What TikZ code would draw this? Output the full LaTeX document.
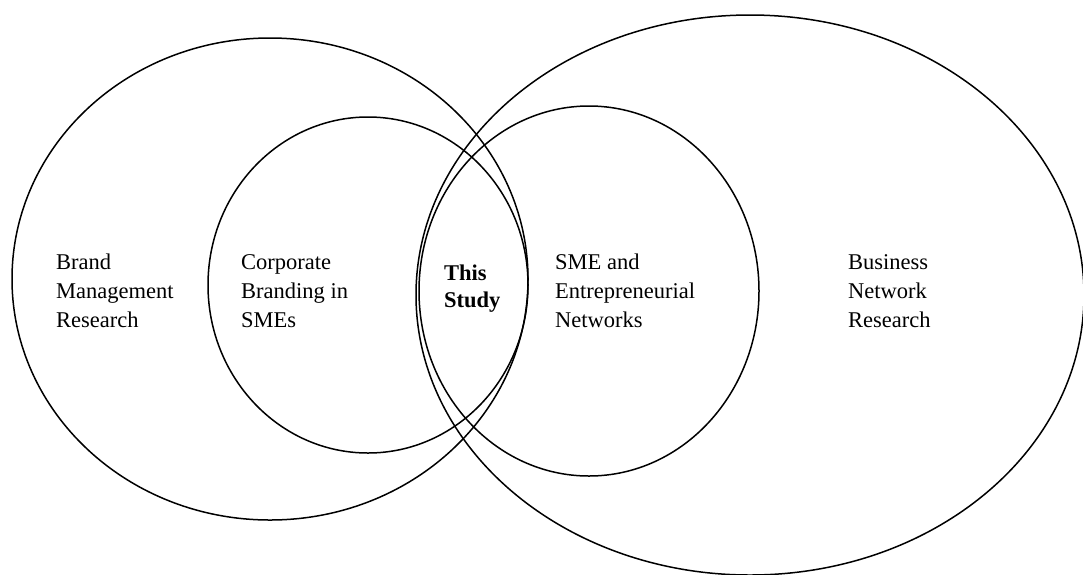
\documentclass[tikz,border=0pt]{standalone}
\usepackage{fontspec}
\setmainfont{Liberation Serif}
\usetikzlibrary{positioning}
\begin{document}
\begin{tikzpicture}[x=1pt,y=-1pt]
    \tikzstyle{ring}=[draw=black,line width=1.5pt]
    \tikzstyle{areatext}=[align=left,inner sep=0,anchor=north west,font=\fontsize{22.5}{29}\selectfont]
    \tikzstyle{core}=[areatext,font=\fontsize{22.5}{27}\selectfont\bfseries]
    \useasboundingbox (0,0) rectangle (1083,574);
    \clip (0,0) rectangle (1083,574);
    {
        % research fields
        \draw[ring] (270,279) ellipse [x radius=258,y radius=241];
        \draw[ring] (750,295) ellipse [x radius=334,y radius=280];
        % sub fields
        \draw[ring] (368,285) ellipse [x radius=160,y radius=168];
        \draw[ring] (589,291) ellipse [x radius=170,y radius=185];

        \node[areatext] (brand) at (56,254) {Brand\\Management\\Research};
        \node[areatext] (corp) at (241,254) {Corporate\\Branding in\\SMEs};
        \node[core] (study) at (444,265) {This\\Study};
        \node[areatext] (sme) at (555,254) {SME and\\Entrepreneurial\\Networks};
        \node[areatext] (business) at (848,254) {Business\\Network\\Research};
    }
\end{tikzpicture}
\end{document}
